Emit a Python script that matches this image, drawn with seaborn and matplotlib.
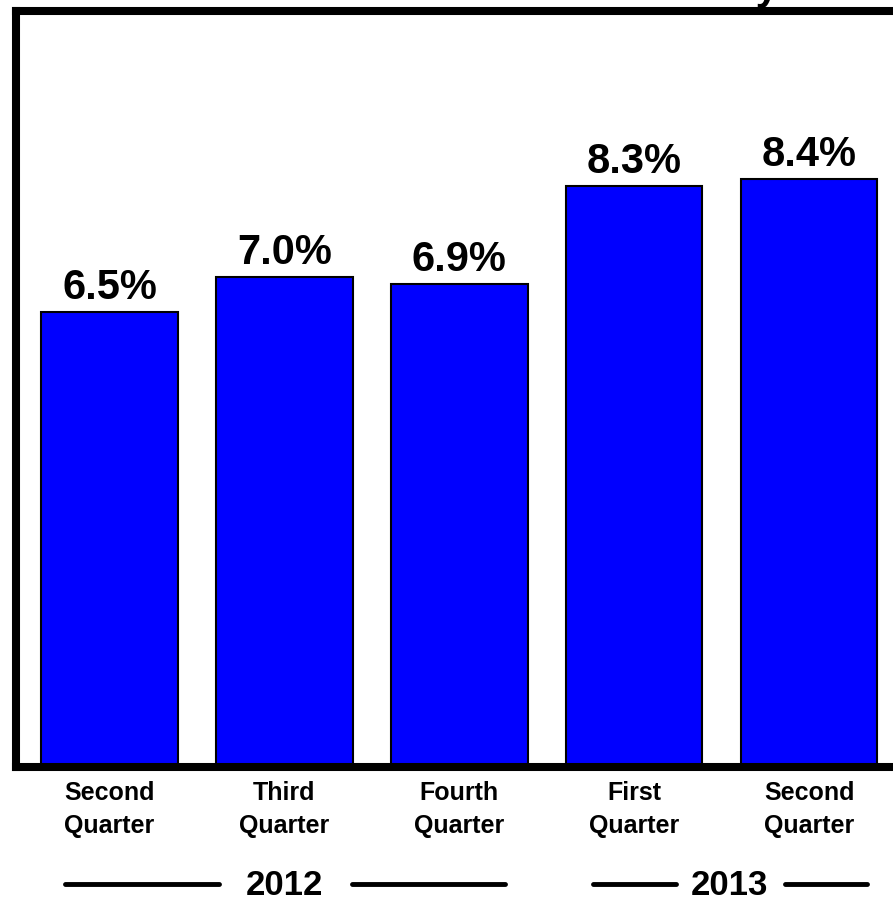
import matplotlib
matplotlib.use('Agg')
import matplotlib.pyplot as plt
import matplotlib.transforms as mtransforms
import seaborn as sns
import pandas as pd

sns.set_style('white')
plt.rcParams['font.family'] = ['Liberation Sans', 'DejaVu Sans']
plt.rcParams['text.color'] = 'black'
plt.rcParams['xtick.color'] = 'black'
plt.rcParams['xtick.labelcolor'] = 'black'

# Data
periods = ['2012 Q2', '2012 Q3', '2012 Q4', '2013 Q1', '2013 Q2']
quarter_labels = ['Second\nQuarter', 'Third\nQuarter', 'Fourth\nQuarter',
                  'First\nQuarter', 'Second\nQuarter']
rates = [6.5, 7.0, 6.9, 8.3, 8.4]
years = ['2012', '2013']

df = pd.DataFrame({'period': periods, 'rate': rates})

fig = plt.figure(figsize=(8.93, 8.97), dpi=100)
ax = fig.add_axes([0.018, 0.145, 0.982, 0.843])

sns.barplot(data=df, x='period', y='rate', color='#0000FF', saturation=1,
            width=0.78, edgecolor='black', linewidth=1.5, ax=ax)

ax.set_xlim(-0.535, 4.48)
ax.set_ylim(0, 10.8)
ax.set_xlabel('')
ax.set_ylabel('')
ax.set_yticks([])
ax.set_xticks(range(len(quarter_labels)))
ax.set_xticklabels(quarter_labels, fontsize=18, fontweight='bold',
                   linespacing=1.5, color='black')
ax.tick_params(axis='x', length=0, pad=10)

for side in ['top', 'left', 'bottom']:
    ax.spines[side].set_linewidth(5.8)
    ax.spines[side].set_color('black')
ax.spines['right'].set_visible(False)

ax.bar_label(ax.containers[0], fmt='{:.1f}%', fontsize=30,
             fontweight='bold', padding=2.5, color='black')

# Year groupings below the quarter labels (close to the bottom edge)
trans = mtransforms.blended_transform_factory(ax.transData, fig.transFigure)
y_line = 1 - 884 / 897
y_text = 1 - 895 / 897
year_groups = [(years[0], 1.0, (-0.254, 0.626), (1.386, 2.26)),
               (years[1], 3.546, (2.763, 3.237), (3.86, 4.33))]
for label, xc, left, right in year_groups:
    fig.text(xc, y_text, label, transform=trans, ha='center', va='baseline',
             fontsize=25, fontweight='bold', color='black')
    for seg in (left, right):
        fig.add_artist(plt.Line2D(seg, [y_line, y_line], transform=trans,
                                  color='black', linewidth=3.5))

# Title, cut off at the top edge (only the descender shows)
fig.text(779 / 893, 1 + 1 / 897, 'Rate Seasonally', ha='right',
         va='baseline', fontsize=30, fontweight='bold', color='black')

fig.savefig('out.png', dpi=100)
